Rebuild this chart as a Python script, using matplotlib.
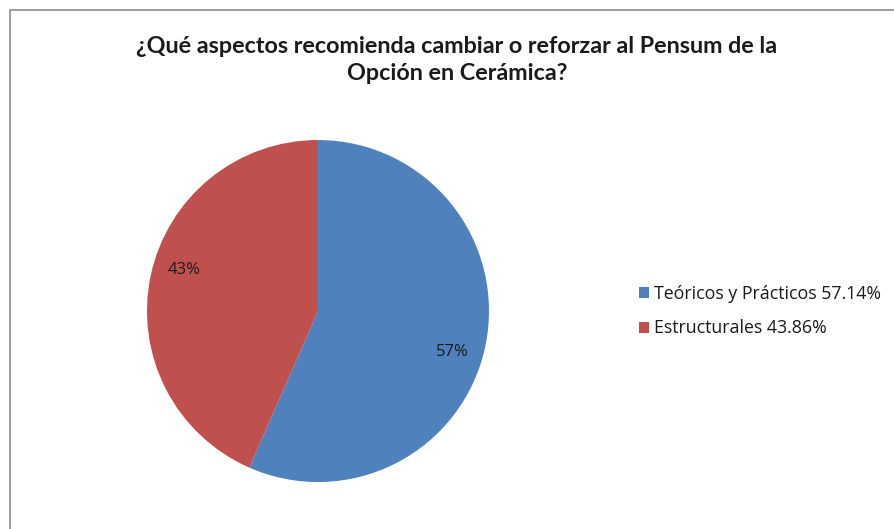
import numpy as np
import matplotlib.pyplot as plt
from matplotlib.patches import Rectangle

# data
categories = ['Teóricos y Prácticos', 'Estructurales']
values = [57.14, 43.86]
colors = ['#4F81BD', '#C0504D']
title = '¿Qué aspectos recomienda cambiar o reforzar al Pensum de la\nOpción en Cerámica?'

plt.rcParams['font.family'] = ['Open Sans', 'DejaVu Sans']

fig = plt.figure(figsize=(8.94, 5.29), dpi=100)

# pie axes placed so the pie sits left of centre
ax = fig.add_axes([0.1644, 0.0888, 0.3826, 0.6465])
wedges, texts, autotexts = ax.pie(values, colors=colors, startangle=90, counterclock=False,
                                  autopct='%1.0f%%', pctdistance=0.82,
                                  textprops={'fontsize': 12, 'color': '#1a1a1a'})
# excel puts the percent labels a little further clockwise
rot = np.deg2rad(-5)
for t in autotexts:
    x, y = t.get_position()
    t.set_position((x * np.cos(rot) - y * np.sin(rot), x * np.sin(rot) + y * np.cos(rot)))
ax.set_xlim(-1, 1)
ax.set_ylim(-1, 1)
ax.set_aspect('equal')

fig.text(0.511, 1 - 60 / 529, title, ha='center', va='center', fontsize=16.8,
         fontweight='bold', linespacing=1.33, color='#1a1a1a', family=['Lato', 'DejaVu Sans'])

labels = [f'{c} {v:.2f}%' for c, v in zip(categories, values)]
fig.legend(wedges, labels, loc='center left', bbox_to_anchor=(623 / 894, 1 - 311 / 529),
           frameon=False, fontsize=12.8, handlelength=0.55, handleheight=0.55,
           handletextpad=0.3, labelspacing=0.95, labelcolor='#1a1a1a')

# grey chart border (left and top edges visible)
fig.patches.append(Rectangle((10 / 894, -0.1), 1.2, 1 - 10 / 529 + 0.1,
                             transform=fig.transFigure, fill=False,
                             edgecolor='#8c8c8c', linewidth=1.2))

fig.savefig('out.png', dpi=100)
